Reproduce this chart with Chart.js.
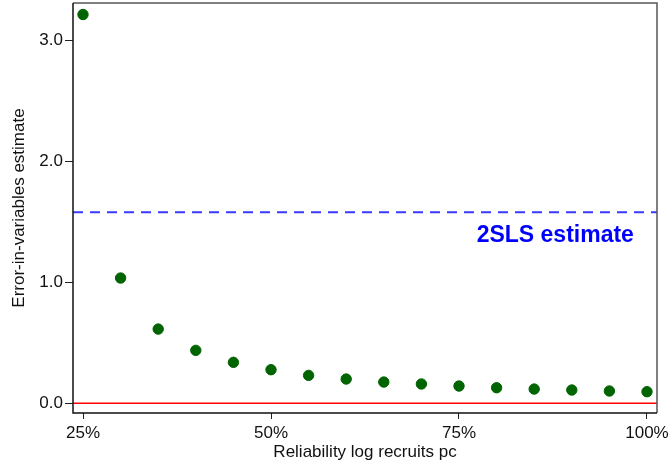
<!DOCTYPE html>
<html>
<head>
<meta charset="utf-8">
<script src="https://cdn.jsdelivr.net/npm/chart.js@4/dist/chart.umd.min.js"></script>
<style>
  html, body { margin: 0; padding: 0; background: #fff; }
  #wrap { width: 668px; height: 466px; }
</style>
</head>
<body>
<div id="wrap"><canvas id="c" width="668" height="466"></canvas></div>
<script>
// Reliability of log recruits per capita (percent)
const reliability = [25, 30, 35, 40, 45, 50, 55, 60, 65, 70, 75, 80, 85, 90, 95, 100];
// Error-in-variables estimate at each reliability
const eivEstimate = [3.215, 1.036, 0.614, 0.438, 0.339, 0.278, 0.231, 0.201, 0.176, 0.160, 0.143, 0.129, 0.118, 0.110, 0.102, 0.096];
// Reference estimates
const tslsEstimate = 1.58;
const zeroLine = 0;
const xTicks = [25, 50, 75, 100];
const yTicks = [0, 1, 2, 3];
const xRange = [23.67, 101.33];
const yRange = [-0.08, 3.31];

const FONT = '"Liberation Sans", Arial, sans-serif';

// Plot frame: dark axis sides, lighter top/right sides
const frame = {
  id: 'frame',
  afterDatasetsDraw(chart) {
    const { ctx, chartArea: a } = chart;
    ctx.save();
    ctx.lineWidth = 1.5;
    ctx.strokeStyle = '#555';
    ctx.beginPath();
    ctx.moveTo(a.left, a.top);
    ctx.lineTo(a.right, a.top);
    ctx.lineTo(a.right, a.bottom);
    ctx.stroke();
    ctx.strokeStyle = '#111';
    ctx.beginPath();
    ctx.moveTo(a.left, a.top);
    ctx.lineTo(a.left, a.bottom);
    ctx.lineTo(a.right, a.bottom);
    ctx.stroke();
    ctx.restore();
  }
};

const tslsLabel = {
  id: 'tslsLabel',
  afterDatasetsDraw(chart) {
    const { ctx, scales } = chart;
    const x = scales.x.getPixelForValue(87.8);
    const y = scales.y.getPixelForValue(tslsEstimate) + 23;
    ctx.save();
    ctx.fillStyle = '#0000ff';
    ctx.font = 'bold 23px ' + FONT;
    ctx.textAlign = 'center';
    ctx.textBaseline = 'middle';
    ctx.fillText('2SLS estimate', x, y);
    ctx.restore();
  }
};

new Chart(document.getElementById('c'), {
  type: 'scatter',
  data: {
    datasets: [
      {
        label: 'zero',
        type: 'line',
        data: [{ x: xRange[0], y: zeroLine }, { x: xRange[1], y: zeroLine }],
        borderColor: '#ff0000',
        borderWidth: 1.4,
        pointRadius: 0,
        order: 3
      },
      {
        label: '2SLS',
        type: 'line',
        data: [{ x: xRange[0], y: tslsEstimate }, { x: xRange[1], y: tslsEstimate }],
        borderColor: '#3a3aff',
        borderWidth: 1.8,
        borderDash: [10, 7],
        pointRadius: 0,
        order: 2
      },
      {
        label: 'EIV',
        data: reliability.map((r, i) => ({ x: r, y: eivEstimate[i] })),
        backgroundColor: '#006400',
        borderColor: '#006400',
        pointRadius: 5.2,
        order: 1
      }
    ]
  },
  options: {
    responsive: false,
    animation: false,
    devicePixelRatio: 1,
    layout: { autoPadding: false, padding: { top: 3, right: 11, left: 0, bottom: 0 } },
    plugins: { legend: { display: false }, tooltip: { enabled: false } },
    scales: {
      x: {
        type: 'linear',
        min: xRange[0],
        max: xRange[1],
        afterBuildTicks(s) { s.ticks = xTicks.map(v => ({ value: v })); },
        afterFit(s) { s.height = 53; s.paddingLeft = 0; s.paddingRight = 0; },
        grid: { drawOnChartArea: false, tickLength: 6, color: '#222', lineWidth: 1 },
        border: { display: false },
        ticks: {
          color: '#111', padding: 4, maxRotation: 0,
          font: { family: FONT, size: 17 },
          callback: v => v + '%'
        },
        title: {
          display: true, text: 'Reliability log recruits pc', color: '#111',
          font: { family: FONT, size: 17 }, padding: { top: 0, bottom: 3 }
        }
      },
      y: {
        type: 'linear',
        min: yRange[0],
        max: yRange[1],
        afterBuildTicks(s) { s.ticks = yTicks.map(v => ({ value: v })); },
        afterFit(s) { s.width = 73; s.paddingTop = 0; s.paddingBottom = 0; },
        grid: { drawOnChartArea: false, tickLength: 8, color: '#222', lineWidth: 1 },
        border: { display: false },
        ticks: {
          color: '#111', padding: 2,
          font: { family: FONT, size: 17 },
          callback: v => v.toFixed(1)
        },
        title: {
          display: true, text: 'Error-in-variables estimate', color: '#111',
          font: { family: FONT, size: 17 }, padding: { top: 9, bottom: 0 }
        }
      }
    }
  },
  plugins: [frame, tslsLabel]
});
</script>
</body>
</html>
